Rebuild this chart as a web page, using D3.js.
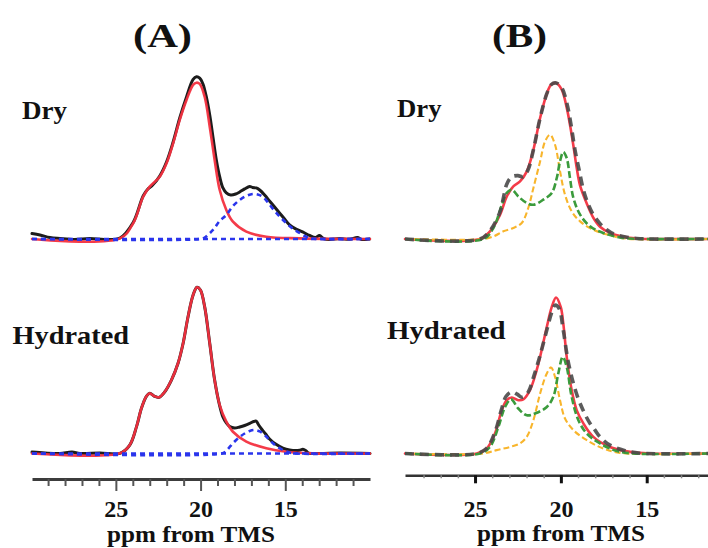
<!DOCTYPE html>
<html>
<head>
<meta charset="utf-8">
<script src="https://cdn.jsdelivr.net/npm/d3@7/dist/d3.min.js"></script>
<style>
  html, body { margin: 0; padding: 0; background: #fff; }
  svg { display: block; }
  text { font-family: "Liberation Serif", "Times New Roman", serif; font-weight: bold; fill: #111; }
</style>
</head>
<body>
<svg id="chart" width="708" height="548"></svg>
<script>
// ---- 13C CP/MAS spectra: [ppm, intensity] (intensity in arbitrary units, 0 = baseline)

// Panel A, dry: experimental trace, main fit, 17 ppm component
const aDryExp = [[29.95,3.4],[29.48,2.5],[28.89,0.9],[28.30,0.3],[27.42,-0.3],[26.53,0.3],[25.65,-0.3],[24.76,0.6],
  [23.98,10.3],[23.39,26.9],[23.11,31.3],[22.88,33.1],[22.41,39.4],[22.01,48.1],[21.62,60.6],[21.23,75.6],[20.83,88.8],
  [20.44,99.7],[20.24,101.4],[20.05,100.6],[19.86,96.9],[19.66,88.8],[19.46,77.5],[19.27,63.8],[19.07,49.4],[18.87,38.8],
  [18.68,31.9],[18.48,28.8],[18.22,27.5],[17.93,28.1],[17.69,29.4],[17.40,31.3],[17.10,32.8],[16.93,32.2],[16.71,31.9],
  [16.51,30.6],[16.22,27.5],[15.93,23.8],[15.63,20.0],[15.34,16.3],[15.04,12.5],[14.75,8.8],[14.39,6.3],[13.98,4.4],
  [13.57,2.2],[13.21,0.9],[12.98,2.2],[12.74,0.3],[12.39,-0.3],[11.80,0.3],[11.21,-0.2],[10.74,0.9],[10.50,-0.3],[10.03,0]];
const aDryFit = [[29.95,0],[24.76,0.4],[23.98,9.8],[23.39,26.4],[23.00,32.7],[22.41,38.9],[22.01,47.3],[21.62,59.8],
  [21.23,74.4],[20.83,86.9],[20.44,96.3],[20.24,97.7],[20.05,96.9],[19.76,88.9],[19.46,70.2],[19.17,49.4],[18.87,30.6],
  [18.48,18.1],[18.09,10.8],[17.30,4.6],[16.12,1.4],[14.16,0.4],[10.00,0]];
const aDryComp = [[29.95,0],[20.05,0],[19.76,0.9],[19.46,3.6],[19.17,6.9],[18.87,11.3],[18.48,15.0],[18.09,20.6],
  [17.69,24.4],[17.30,26.9],[16.93,28.1],[16.63,27.8],[16.32,26.3],[16.04,23.1],[15.73,18.8],[15.34,14.1],[14.94,10.0],
  [14.57,6.6],[14.16,3.8],[13.80,1.6],[13.45,0.3],[12.98,0],[10.00,0]];

// Panel A, hydrated
const aHydExp = [[29.95,0.9],[29.18,0.3],[28.30,0],[27.59,0.9],[27.12,0],[25.94,0.3],[24.76,0.1],[24.18,5.3],[23.78,16.8],
  [23.49,28.3],[23.19,35.9],[23.00,37.6],[22.74,35.9],[22.45,35.1],[22.11,38.6],[21.72,45.9],[21.33,56.4],[21.03,68.9],
  [20.74,85.5],[20.44,99.1],[20.21,103.9],[20.01,102.2],[19.76,91.8],[19.46,68.9],[19.17,45.9],[18.87,29.7],[18.68,22.8],
  [18.48,19.1],[18.28,16.8],[17.99,15.9],[17.69,16.6],[17.40,17.5],[17.10,18.8],[16.87,20.0],[16.72,20.3],[16.57,17.8],
  [16.40,15.3],[16.16,12.2],[15.93,9.1],[15.57,5.9],[15.14,3.4],[14.75,2.2],[14.35,1.8],[14.16,2.0],[13.96,2.6],[13.80,1.9],
  [13.63,0.3],[12.98,0],[11.80,0.3],[10.00,0]];
const aHydFit = [[29.95,0],[24.76,0.1],[24.18,5.3],[23.78,16.8],[23.49,28.3],[23.19,35.9],[23.00,37.6],[22.74,35.9],
  [22.45,35.1],[22.11,38.6],[21.72,45.9],[21.33,56.4],[21.03,68.9],[20.74,85.5],[20.44,99.1],[20.21,103.9],[20.01,102.2],
  [19.76,91.8],[19.46,68.9],[19.17,45.9],[18.87,30.3],[18.48,19.9],[18.09,13.6],[17.30,7.4],[16.12,3.3],[14.94,1.1],
  [13.37,0.1],[10.00,0]];
const aHydComp = [[29.95,0],[18.75,0],[18.52,1.3],[18.28,4.1],[17.99,7.5],[17.69,10.3],[17.40,12.5],[17.10,14.1],
  [16.81,14.7],[16.51,13.8],[16.22,11.6],[15.93,8.4],[15.57,5.0],[15.14,2.2],[14.75,0.6],[14.39,0],[10.00,0]];
const aBaseline = [[29.95,0],[10.00,0]];

// Panel B, dry: total fit (solid), experimental (grey dashes), two components
const bDryFit = [[29.08,0],[24.71,0],[24.13,4.8],[23.54,15.2],[23.15,26.6],[22.77,32.9],[22.38,36.0],[21.99,42.1],
  [21.60,55.8],[21.21,75.6],[20.82,90.8],[20.57,96.4],[20.28,97.5],[19.95,93.3],[19.66,82.1],[19.47,71.4],[19.27,58.3],
  [19.08,44.6],[18.88,33.3],[18.49,22.1],[18.11,13.3],[17.72,7.7],[17.14,3.8],[16.16,1.0],[15.39,0.2],[11.43,0]];
const bDryExp = [[29.08,0],[24.71,0],[24.13,5.2],[23.54,17.1],[23.37,24.6],[23.14,34.6],[22.85,38.9],[22.50,39.6],
  [22.20,38.9],[21.91,43.3],[21.60,55.8],[21.21,75.6],[20.82,90.8],[20.57,96.4],[20.28,97.5],[19.95,94.6],[19.66,85.2],
  [19.41,71.4],[19.18,55.8],[18.94,43.3],[18.69,30.8],[18.42,22.1],[18.11,15.2],[17.72,9.6],[17.33,5.8],[16.95,3.3],
  [16.16,1.1],[15.39,0.2],[11.43,0]];
const bDryOrange = [[29.08,0],[24.52,0],[23.93,1.6],[23.35,4.8],[22.77,6.9],[22.28,10.0],[21.90,19.4],[21.60,31.9],
  [21.21,48.5],[20.92,61.0],[20.63,65.2],[20.34,58.9],[20.05,42.3],[19.76,27.7],[19.37,17.3],[18.88,11.0],[18.11,5.8],
  [17.14,2.3],[16.16,0.2],[11.43,0]];
const bDryGreen = [[29.08,0],[24.52,0],[23.93,6.9],[23.44,21.4],[23.15,28.8],[22.86,30.8],[22.48,26.6],[21.99,22.5],
  [21.60,21.4],[21.02,24.6],[20.53,28.8],[20.24,38.1],[20.05,48.5],[19.86,54.4],[19.66,50.6],[19.47,38.1],[19.27,25.6],
  [18.88,15.2],[18.30,7.9],[17.53,3.8],[16.56,1.0],[15.78,0.2],[11.43,0]];

// Panel B, hydrated
const bHydFit = [[29.08,0],[24.90,0],[24.32,3.1],[23.84,12.5],[23.44,27.1],[23.15,33.3],[22.86,35.0],[22.48,33.3],
  [22.19,33.8],[21.80,39.6],[21.41,52.1],[21.21,60.4],[20.82,79.1],[20.53,91.6],[20.28,97.5],[20.01,91.6],[19.86,81.3],
  [19.66,60.4],[19.37,39.6],[19.08,27.1],[18.69,18.8],[18.11,10.4],[17.14,4.1],[15.97,1.0],[14.81,0],[11.43,0]];
const bHydExp = [[29.08,0],[24.90,0],[24.32,3.3],[23.84,13.3],[23.44,28.3],[23.19,35.8],[22.86,38.5],[22.55,37.1],
  [22.26,35.2],[21.91,38.3],[21.56,48.9],[21.21,61.4],[20.82,77.1],[20.53,88.3],[20.34,92.7],[20.11,90.8],[19.86,77.1],
  [19.59,58.3],[19.27,43.8],[19.00,34.6],[18.79,29.1],[18.54,23.3],[18.30,18.8],[18.01,14.6],[17.72,10.4],[17.14,5.2],
  [16.26,1.8],[15.39,0.2],[11.43,0]];
const bHydOrange = [[29.08,0],[24.52,0],[23.74,2.1],[22.96,4.1],[22.38,6.3],[21.99,10.4],[21.60,20.8],[21.21,37.5],
  [20.82,50.0],[20.57,53.8],[20.34,47.9],[20.05,33.3],[19.76,21.9],[19.27,14.6],[18.49,8.3],[17.53,3.1],[16.56,0.4],[11.43,0]];
const bHydGreen = [[29.08,0],[24.71,0],[24.13,4.1],[23.64,16.6],[23.25,29.1],[22.90,33.8],[22.48,28.1],[21.99,23.9],
  [21.51,25.0],[20.82,29.1],[20.44,35.4],[20.15,50.0],[19.89,60.4],[19.66,54.1],[19.37,35.4],[18.98,20.8],[18.49,12.5],
  [17.72,6.3],[16.75,1.6],[15.78,0],[11.43,0]];

// ---- axis ticks and labels
const majorTicks = [25, 20, 15];
const minorTicksA = [29, 28, 27, 26, 24, 23, 22, 21, 19, 18, 17, 16, 14, 13, 12, 11];
const minorTicksB = [28, 27, 26, 24, 23, 22, 21, 19, 18, 17, 16, 14, 13, 12];
const axisTitle = "ppm from TMS";
const panelTitles = ["(A)", "(B)"];
const rowLabels = ["Dry", "Hydrated"];

// ---- layout
const svg = d3.select("#chart");

const xA = d3.scaleLinear().domain([29.95, 10.0]).range([32, 370]);
const xB = d3.scaleLinear().domain([29.08, 11.43]).range([405, 708]);
const yDry = d3.scaleLinear().domain([0, 100]).range([239, 79]);
const yHyd = d3.scaleLinear().domain([0, 100]).range([453.5, 293.5]);

const curve = d3.curveCatmullRom.alpha(0.5);
function lineFor(x, y) {
  return d3.line().x(d => x(d[0])).y(d => y(d[1])).curve(curve);
}

const plot = svg.append("g").attr("class", "traces");

function trace(data, x, y, style) {
  plot.append("path")
    .datum(data)
    .attr("d", lineFor(x, y))
    .attr("fill", "none")
    .attr("stroke", style.color)
    .attr("stroke-width", style.width)
    .attr("stroke-dasharray", style.dash || null)
    .attr("stroke-linejoin", "round")
    .attr("stroke-linecap", style.cap || "round")
    .attr("opacity", style.opacity || 1);
}

const sExp = { color: "#1c1c1c", width: 3 };
const sFit = { color: "#f3303f", width: 2.6, opacity: 0.95 };
const sBlue = { color: "#2a35ec", width: 2.6, dash: "5,4", cap: "butt" };
const sGrey = { color: "#4a4a4a", width: 3.6, dash: "9,6", cap: "butt", opacity: 0.9 };
const sOrange = { color: "#f8b52c", width: 2.1, dash: "6,3", cap: "butt" };
const sGreen = { color: "#3b9b3c", width: 2.6, dash: "7,3", cap: "butt" };

// Panel A
[[aDryExp, aDryFit, aDryComp, yDry], [aHydExp, aHydFit, aHydComp, yHyd]].forEach(([exp, fit, comp, y]) => {
  trace(exp, xA, y, sExp);
  trace(fit, xA, y, sFit);
  trace(aBaseline, xA, y, sBlue);
  trace(comp, xA, y, sBlue);
});

// Panel B
[[bDryFit, bDryExp, bDryOrange, bDryGreen, yDry], [bHydFit, bHydExp, bHydOrange, bHydGreen, yHyd]].forEach(([fit, exp, orange, green, y]) => {
  trace(fit, xB, y, sFit);
  trace(orange, xB, y, sOrange);
  trace(green, xB, y, sGreen);
  trace(exp, xB, y, sGrey);
});

// ---- axes
function drawAxis(x, yPos, minor, opt) {
  const gMinor = svg.append("g").attr("transform", `translate(0,${yPos})`)
    .call(d3.axisBottom(x).tickValues(minor).tickSize(opt.minorLen).tickSizeOuter(0).tickFormat(""));
  gMinor.select(".domain").attr("stroke", opt.lineColor).attr("stroke-width", opt.lineWidth);
  gMinor.selectAll(".tick line").attr("stroke", opt.minorColor).attr("stroke-width", opt.minorWidth);

  const gMajor = svg.append("g").attr("transform", `translate(0,${yPos})`)
    .call(d3.axisBottom(x).tickValues(majorTicks).tickSize(opt.majorLen).tickSizeOuter(0).tickFormat(d3.format("d")));
  gMajor.select(".domain").remove();
  gMajor.selectAll(".tick line").attr("stroke", opt.majorColor).attr("stroke-width", opt.majorWidth);
  gMajor.selectAll(".tick text")
    .attr("y", opt.labelY).attr("dy", null)
    .attr("font-family", null).attr("font-size", null)
    .style("font-size", "24px").style("fill", "#111");

  svg.append("text")
    .attr("x", opt.titleX).attr("y", yPos + opt.titleY)
    .attr("text-anchor", "middle")
    .attr("textLength", 168).attr("lengthAdjust", "spacingAndGlyphs")
    .style("font-size", "23px")
    .text(axisTitle);
}

drawAxis(xA, 479, minorTicksA, {
  lineColor: "#3c3c3c", lineWidth: 3, minorLen: 7, majorLen: 12,
  minorColor: "#555", minorWidth: 2, majorColor: "#555", majorWidth: 2,
  labelY: 38, titleX: 191, titleY: 62.5
});
drawAxis(xB, 475.3, minorTicksB, {
  lineColor: "#333", lineWidth: 2.5, minorLen: 3, majorLen: 8,
  minorColor: "#888", minorWidth: 1.5, majorColor: "#111", majorWidth: 3,
  labelY: 41.5, titleX: 561, titleY: 66
});

// ---- panel titles and row labels
function label(txt, x, y, size, len) {
  svg.append("text")
    .attr("x", x).attr("y", y)
    .attr("textLength", len).attr("lengthAdjust", "spacingAndGlyphs")
    .style("font-size", size + "px")
    .text(txt);
}
label(panelTitles[0], 133, 47, 34, 59);
label(panelTitles[1], 492, 47, 34, 55);
label(rowLabels[0], 22, 118.5, 25, 45);
label(rowLabels[0], 397, 116.5, 24.5, 44.5);
label(rowLabels[1], 12.5, 343.5, 25, 116.5);
label(rowLabels[1], 387, 338.5, 25, 118.5);
</script>
</body>
</html>
